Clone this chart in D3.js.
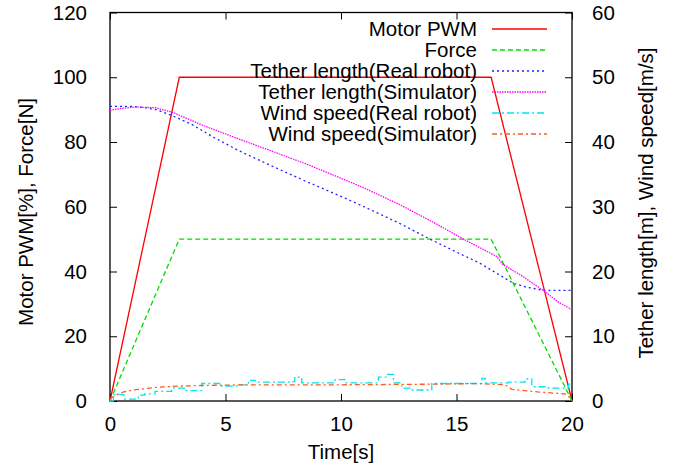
<!DOCTYPE html>
<html>
<head>
<meta charset="utf-8">
<script src="https://cdn.jsdelivr.net/npm/d3@7"></script>
<style>
  body { margin: 0; background: #fff; }
  svg { font-family: "Liberation Sans", Arial, Helvetica, sans-serif; }
</style>
</head>
<body>
<div id="chart"></div>
<script>
// ---- data ----
const pwm = [[0, 0], [3, 100], [16.5, 100], [20, 0]];
const force = [[0, 0], [3, 50], [16.5, 50], [20, 0]];

const tetherReal = [[0, 45.5], [1, 45.5], [1.5, 45.3], [2, 45.0], [2.67, 44.1], [3.5, 42.8],
  [4.5, 40.7], [5.55, 38.7], [7, 36.3], [8.5, 33.9], [9.87, 31.8], [11, 30.0], [12.5, 27.5],
  [13.85, 25.0], [15, 23.0], [16, 21.3], [16.8, 19.6], [17.45, 18.2], [18, 17.6], [18.75, 17.1], [20, 17.1]];

const tetherSim = [[0, 44.9], [0.5, 45.2], [1.1, 45.4], [1.95, 45.3], [2.7, 44.6], [4, 42.6],
  [5.55, 40.5], [7, 38.6], [8.5, 36.6], [9.87, 34.6], [11, 32.9], [12.5, 30.4], [14, 27.6],
  [15.3, 25.0], [16.75, 22.3], [17, 21.1], [17.8, 19.4], [18.75, 17.1], [19.4, 15.3], [20, 14.1]];

const windReal = [[0, 0], [0.15, 1.0], [0.6, 0.3], [1.23, 0.9], [1.5, 1.1], [1.95, 1.5], [2.67, 2.0],
  [3.25, 1.6], [3.97, 2.7], [4.83, 2.3], [5.56, 2.5], [5.99, 3.2], [6.3, 2.9], [7.86, 3.0], [8.0, 3.7],
  [8.3, 2.8], [9.74, 3.3], [10.17, 2.8], [11.62, 3.7], [11.98, 4.1], [12.27, 2.8], [12.63, 2.0],
  [13.07, 1.7], [13.93, 2.7], [16.1, 3.5], [16.24, 2.8], [17.25, 2.9], [17.97, 3.4], [18.26, 2.2],
  [18.98, 2.0], [19.85, 2.6], [20, 2.6]];

const windSim = [[0, 0.3], [0.3, 1.0], [0.6, 1.4], [1, 1.7], [2, 2.1], [3, 2.3], [4, 2.4], [6, 2.5],
  [10, 2.5], [14, 2.6], [16, 2.7], [17.1, 2.5], [17.4, 1.8], [18.5, 1.4], [19.7, 1.1], [20, 0.3]];

const xTicks = [0, 5, 10, 15, 20];
const yTicks = [0, 20, 40, 60, 80, 100, 120];
const y2Ticks = [0, 10, 20, 30, 40, 50, 60];

const series = [
  {name: 'Motor PWM', data: pwm, axis: 'y', color: '#ff0000', dash: null, curve: d3.curveLinear},
  {name: 'Force', data: force, axis: 'y', color: '#00dd00', dash: '5,3', curve: d3.curveLinear},
  {name: 'Tether length(Real robot)', data: tetherReal, axis: 'y2', color: '#2222ff', dash: '2,3', curve: d3.curveLinear},
  {name: 'Tether length(Simulator)', data: tetherSim, axis: 'y2', color: '#ff00ff', dash: '1.5,1', curve: d3.curveLinear},
  {name: 'Wind speed(Real robot)', data: windReal, axis: 'y2', color: '#00e5ee', dash: '7,3,2,3', curve: d3.curveStepAfter},
  {name: 'Wind speed(Simulator)', data: windSim, axis: 'y2', color: '#ff5a1e', dash: '5,3,2,3', curve: d3.curveLinear}
];

// ---- layout ----
const W = 680, H = 470;
const plot = {left: 110, right: 572, top: 12.5, bottom: 401};

const svg = d3.select('#chart').append('svg')
  .attr('width', W)
  .attr('height', H);

const x = d3.scaleLinear().domain([0, 20]).range([plot.left, plot.right]);
const y = d3.scaleLinear().domain([0, 120]).range([plot.bottom, plot.top]);
const y2 = d3.scaleLinear().domain([0, 60]).range([plot.bottom, plot.top]);

const fontSize = 20.5;
const tickLen = 7;

// axes (ticks point inward, like gnuplot)
const styleAxis = g => {
  g.select('.domain').remove();
  g.selectAll('.tick line').attr('stroke', '#000').attr('stroke-width', 1);
  g.selectAll('.tick text').attr('font-size', fontSize).attr('fill', '#000')
    .attr('font-family', '"Liberation Sans", Arial, sans-serif');
};

svg.append('g')
  .attr('transform', `translate(0,${plot.bottom})`)
  .call(d3.axisBottom(x).tickValues(xTicks).tickSize(-tickLen).tickPadding(15))
  .call(styleAxis);

svg.append('g')
  .attr('transform', `translate(0,${plot.top})`)
  .call(d3.axisTop(x).tickValues(xTicks).tickSize(-tickLen).tickFormat(''))
  .call(styleAxis);

svg.append('g')
  .attr('transform', `translate(${plot.left},0)`)
  .call(d3.axisLeft(y).tickValues(yTicks).tickSize(-tickLen).tickPadding(23))
  .call(styleAxis);

svg.append('g')
  .attr('transform', `translate(${plot.right},0)`)
  .call(d3.axisRight(y2).tickValues(y2Ticks).tickSize(-tickLen).tickPadding(20))
  .call(styleAxis);

// frame
svg.append('rect')
  .attr('x', plot.left)
  .attr('y', plot.top)
  .attr('width', plot.right - plot.left)
  .attr('height', plot.bottom - plot.top)
  .attr('fill', 'none')
  .attr('stroke', '#000')
  .attr('stroke-width', 1.3);

// lines
series.forEach(s => {
  const sc = s.axis === 'y' ? y : y2;
  const line = d3.line()
    .x(d => x(d[0]))
    .y(d => sc(d[1]))
    .curve(s.curve);
  svg.append('path')
    .datum(s.data)
    .attr('d', line)
    .attr('fill', 'none')
    .attr('stroke', s.color)
    .attr('stroke-width', 1.3)
    .attr('stroke-dasharray', s.dash);
});

// legend
series.forEach((s, i) => {
  const ry = Math.round(29 + i * 20.9);
  const row = svg.append('g').attr('transform', `translate(0,${ry})`);
  row.append('text')
    .attr('x', 477)
    .attr('y', 0)
    .attr('dy', '0.35em')
    .attr('text-anchor', 'end')
    .attr('font-size', fontSize)
    .text(s.name);
  row.append('line')
    .attr('x1', 492)
    .attr('x2', 547)
    .attr('y1', 0)
    .attr('y2', 0)
    .attr('stroke', s.color)
    .attr('stroke-width', 1.5)
    .attr('stroke-dasharray', s.dash);
});

// axis titles
svg.append('text')
  .attr('x', (plot.left + plot.right) / 2)
  .attr('y', 459)
  .attr('text-anchor', 'middle')
  .attr('font-size', fontSize)
  .text('Time[s]');

svg.append('text')
  .attr('transform', 'translate(26,212) rotate(-90)')
  .attr('dy', '0.35em')
  .attr('text-anchor', 'middle')
  .attr('font-size', fontSize)
  .text('Motor PWM[%], Force[N]');

svg.append('text')
  .attr('transform', 'translate(646,203) rotate(-90)')
  .attr('dy', '0.35em')
  .attr('text-anchor', 'middle')
  .attr('font-size', fontSize)
  .text('Tether length[m], Wind speed[m/s]');
</script>
</body>
</html>
